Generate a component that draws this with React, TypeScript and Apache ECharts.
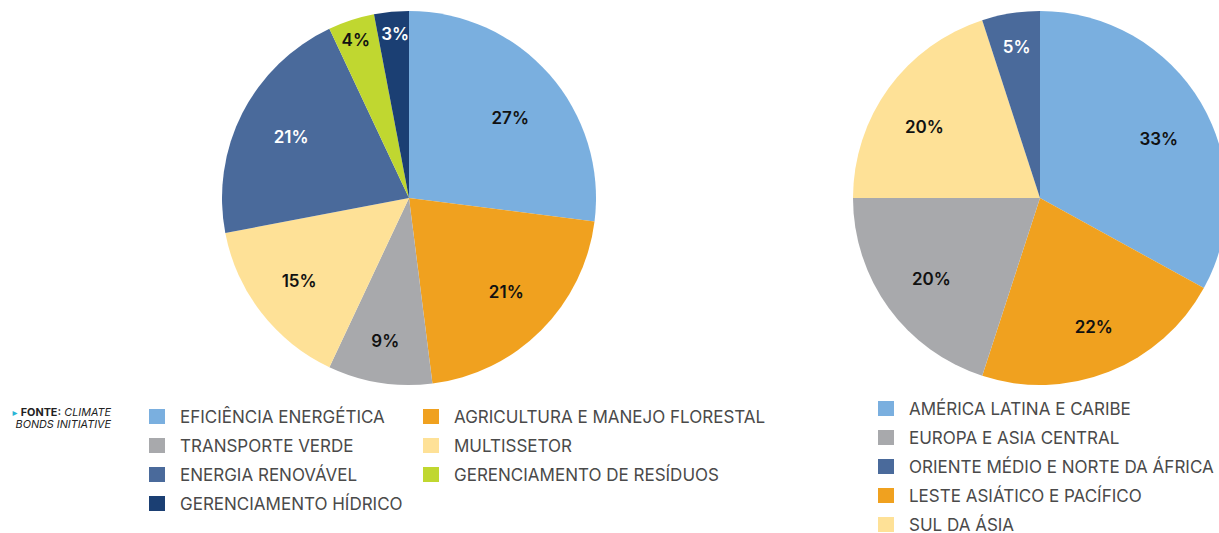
import React, { useEffect, useRef } from "react";
import * as echarts from "echarts";

const leftNames = [
  "EFICIÊNCIA ENERGÉTICA",
  "AGRICULTURA E MANEJO FLORESTAL",
  "TRANSPORTE VERDE",
  "MULTISSETOR",
  "ENERGIA RENOVÁVEL",
  "GERENCIAMENTO DE RESÍDUOS",
  "GERENCIAMENTO HÍDRICO",
];
const leftValues = [27, 21, 9, 15, 21, 4, 3];
const leftColors = ["#7aafdf", "#f0a11f", "#a8a9ac", "#fee197", "#4a6a9b", "#c0d730", "#1b3f73"];
const leftLabelColors = ["#111", "#111", "#111", "#111", "#fff", "#111", "#fff"];
const leftSmall = [false, false, false, false, false, true, true];
// small hand-placement tweaks of the value labels (px)
const leftNudge = [[-3, 12], [-1, -4], [-2, 6], [0, -2], [6, 2], [-1, 3], [2, 4]];

const rightNames = [
  "AMÉRICA LATINA E CARIBE",
  "LESTE ASIÁTICO E PACÍFICO",
  "EUROPA E ASIA CENTRAL",
  "SUL DA ÁSIA",
  "ORIENTE MÉDIO E NORTE DA ÁFRICA",
];
const rightValues = [33, 22, 20, 20, 5];
const rightColors = ["#7aafdf", "#f0a11f", "#a8a9ac", "#fee197", "#4a6a9b"];
const rightLabelColors = ["#111", "#111", "#111", "#111", "#fff"];
const rightSmall = [false, false, false, false, true];
const rightNudge = [[0, 11], [3, 1], [3, 0], [-4, 10], [1, 3]];

const legendCol1 = ["EFICIÊNCIA ENERGÉTICA", "TRANSPORTE VERDE", "ENERGIA RENOVÁVEL", "GERENCIAMENTO HÍDRICO"];
const legendCol2 = ["AGRICULTURA E MANEJO FLORESTAL", "MULTISSETOR", "GERENCIAMENTO DE RESÍDUOS"];
const legendRight = [
  "AMÉRICA LATINA E CARIBE",
  "EUROPA E ASIA CENTRAL",
  "ORIENTE MÉDIO E NORTE DA ÁFRICA",
  "LESTE ASIÁTICO E PACÍFICO",
  "SUL DA ÁSIA",
];

const R = 187;
const labelFont = { fontFamily: "Inter", fontWeight: 600, fontSize: 17 };

function baseSeries(names: string[], values: number[], colors: string[], center: number[]) {
  return {
    type: "pie",
    center,
    radius: [0, R],
    silent: true,
    label: { show: false },
    labelLine: { show: false },
    itemStyle: { borderWidth: 0 },
    data: names.map((n, i) => ({ name: n, value: values[i], itemStyle: { color: colors[i] } })),
  };
}

function labelSeries(
  names: string[],
  values: number[],
  labelColors: string[],
  small: boolean[],
  nudge: number[][],
  center: number[],
  inner: number,
  wantSmall: boolean
) {
  return {
    type: "pie",
    center,
    radius: [inner, R],
    silent: true,
    labelLine: { show: false },
    itemStyle: { color: "rgba(0,0,0,0)", borderWidth: 0 },
    labelLayout: (p: any) => ({ dx: nudge[p.dataIndex][0], dy: nudge[p.dataIndex][1] }),
    data: names.map((n, i) => ({
      name: n,
      value: values[i],
      label: {
        show: small[i] === wantSmall,
        position: "inside",
        formatter: "{c}%",
        color: labelColors[i],
        ...labelFont,
      },
    })),
  };
}

const legendCommon = {
  orient: "vertical",
  itemWidth: 16,
  itemHeight: 15,
  itemGap: 12,
  padding: 0,
  height: 140,
  icon: "rect",
  selectedMode: false,
  textStyle: {
    fontFamily: "Inter",
    fontSize: 17,
    color: "#4a4a4a",
    lineHeight: 15,
    padding: [0, 0, 0, 10],
  },
};

export default function App() {
  const ref = useRef<HTMLDivElement>(null);
  useEffect(() => {
    if (!ref.current) return;
    const chart = echarts.init(ref.current, null, { renderer: "svg" });
    const cL = [409, 198];
    const cR = [1040, 198];
    chart.setOption({
      animation: false,
      legend: [
        { ...legendCommon, left: 149, top: 408, data: legendCol1 },
        { ...legendCommon, left: 423, top: 408, data: legendCol2 },
        { ...legendCommon, left: 878, top: 400, data: legendRight },
      ],
      graphic: [
        {
          type: "text",
          right: 1219 - 111,
          top: 406,
          style: {
            text: "{t|▸} {b|FONTE:} {i|CLIMATE}\n{i|BONDS INITIATIVE}",
            align: "right",
            rich: {
              t: { fill: "#29b6d6", fontSize: 10, fontFamily: "DejaVu Sans", lineHeight: 12, align: "right" },
              b: { fill: "#222", fontSize: 10.8, fontWeight: "bold", fontFamily: "Inter", lineHeight: 12, align: "right" },
              i: { fill: "#222", fontSize: 10.8, fontStyle: "italic", fontFamily: "Inter", lineHeight: 12, align: "right" },
            },
          },
        },
      ],
      series: [
        baseSeries(leftNames, leftValues, leftColors, cL),
        baseSeries(rightNames, rightValues, rightColors, cR),
        labelSeries(leftNames, leftValues, leftLabelColors, leftSmall, leftNudge, cL, 85, false),
        labelSeries(leftNames, leftValues, leftLabelColors, leftSmall, leftNudge, cL, 145, true),
        labelSeries(rightNames, rightValues, rightLabelColors, rightSmall, rightNudge, cR, 83, false),
        labelSeries(rightNames, rightValues, rightLabelColors, rightSmall, rightNudge, cR, 119, true),
      ],
    });
    return () => chart.dispose();
  }, []);
  return (
    <div
      ref={ref}
      style={{ position: "absolute", left: 0, top: 0, width: 1219, height: 533, background: "#fff" }}
    />
  );
}
